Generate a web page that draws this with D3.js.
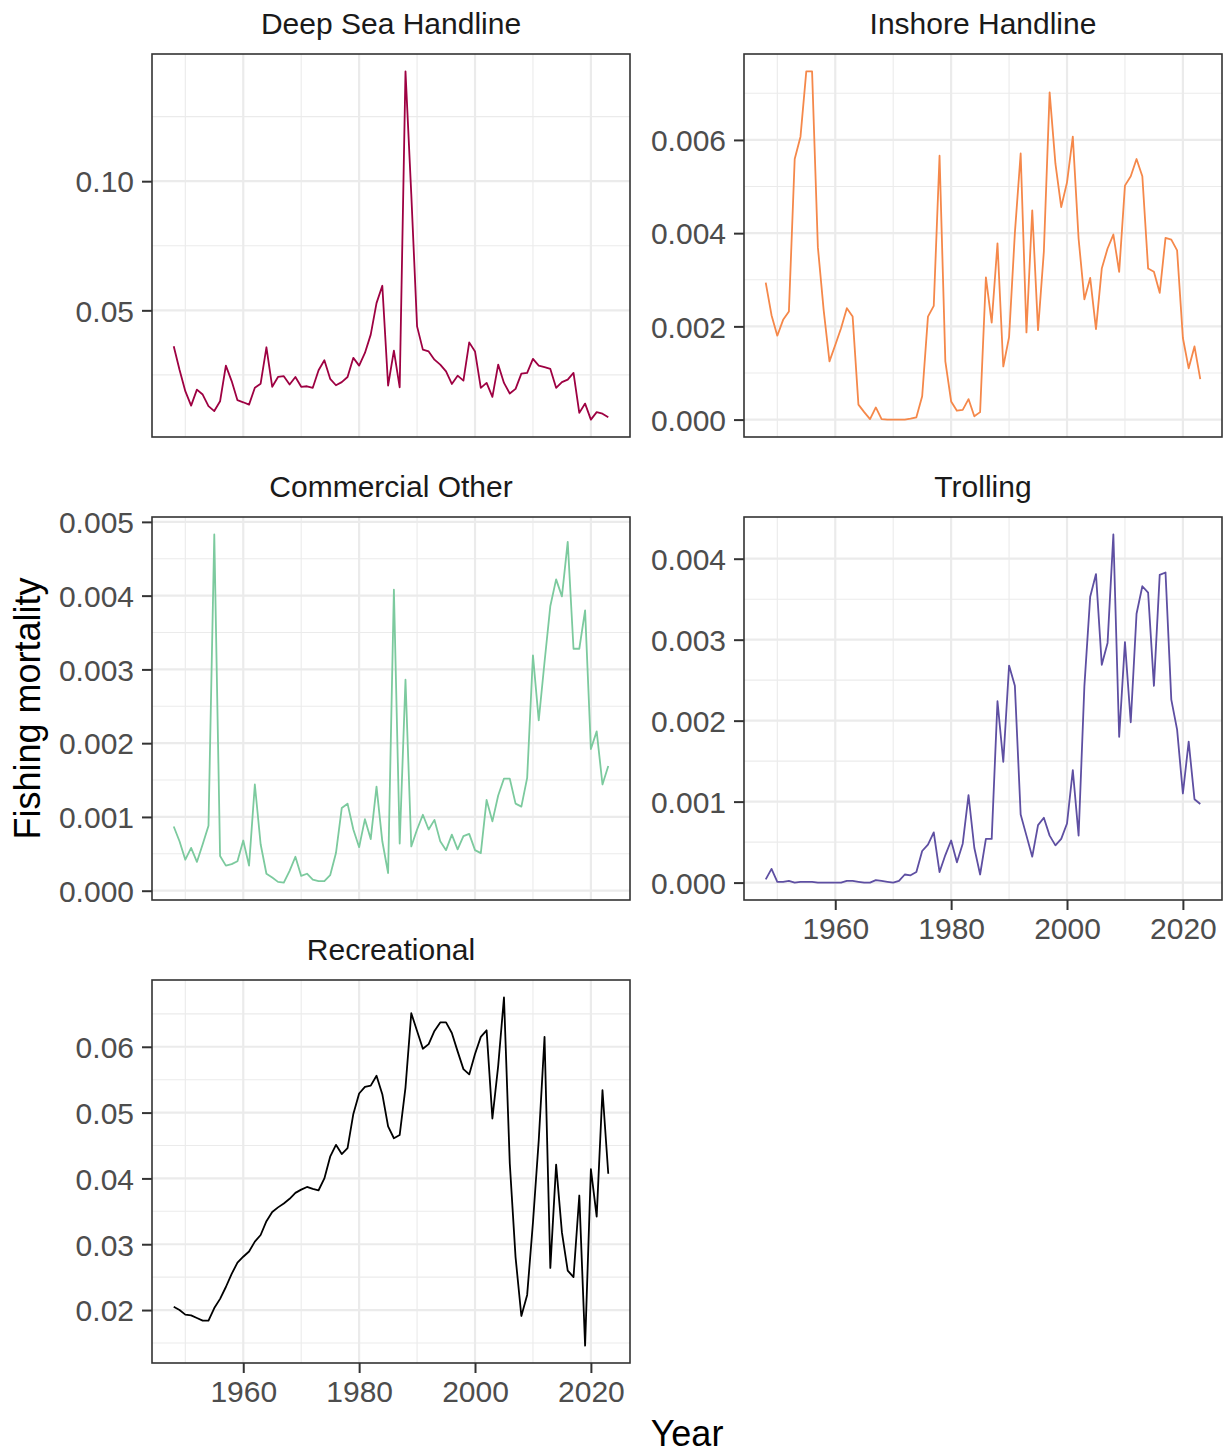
<!DOCTYPE html>
<html>
<head>
<meta charset="utf-8">
<script src="https://cdn.jsdelivr.net/npm/d3@7"></script>
<style>
  html, body { margin: 0; padding: 0; background: #ffffff; }
  svg { display: block; font-family: "Liberation Sans", Arial, Helvetica, sans-serif; }
</style>
</head>
<body>
<svg id="chart" width="1231" height="1454"></svg>
<script>
// ---------------- DATA ----------------
const years = [1948,1949,1950,1951,1952,1953,1954,1955,1956,1957,1958,1959,
  1960,1961,1962,1963,1964,1965,1966,1967,1968,1969,1970,1971,1972,1973,1974,1975,1976,1977,1978,1979,
  1980,1981,1982,1983,1984,1985,1986,1987,1988,1989,1990,1991,1992,1993,1994,1995,1996,1997,1998,1999,
  2000,2001,2002,2003,2004,2005,2006,2007,2008,2009,2010,2011,2012,2013,2014,2015,2016,2017,2018,2019,
  2020,2021,2022,2023];

const fleets = ["Deep Sea Handline", "Inshore Handline", "Commercial Other", "Trolling", "Recreational"];
const fleetColors = ["#9E0142", "#F5884A", "#7CCA9E", "#5E4FA2", "#000000"];

const deepSeaHandline = [0.0361,0.027,0.0187,0.0131,0.0193,0.0174,0.0129,0.011,0.0148,0.0286,
  0.0226,0.0152,0.0144,0.0135,0.02,0.0216,0.0357,0.0204,0.0242,0.0245,
  0.0213,0.0242,0.0204,0.0206,0.02,0.0268,0.0307,0.0235,0.021,0.0222,
  0.0242,0.0316,0.0286,0.0335,0.0406,0.0528,0.0595,0.0209,0.0344,0.0202,
  0.1425,0.095,0.0438,0.0348,0.0341,0.0309,0.029,0.0264,0.0215,0.0247,
  0.0228,0.0376,0.0341,0.02,0.0219,0.0165,0.029,0.0219,0.0178,0.0196,
  0.0255,0.0258,0.0312,0.0286,0.028,0.0273,0.02,0.0222,0.0232,0.0258,
  0.0103,0.0139,0.0077,0.0106,0.01,0.0086];

const inshoreHandline = [0.00294,0.00224,0.0018,0.00214,0.00232,0.00559,0.00607,0.00747,0.00747,0.0037,
  0.00235,0.00125,0.0016,0.00196,0.00239,0.00221,0.00032,0.00016,0.00001,0.00026,
  0.00001,0.0,0.0,0.0,0.0,0.00002,0.00005,0.0005,0.00221,0.00244,
  0.00566,0.00125,0.00039,0.00019,0.00021,0.00044,0.00007,0.00016,0.00305,0.00208,
  0.00378,0.00114,0.00177,0.0040,0.00571,0.00187,0.00449,0.00192,0.0036,0.00702,
  0.00549,0.00456,0.00509,0.00607,0.00388,0.00258,0.00304,0.00194,0.00324,0.00367,
  0.00397,0.00317,0.00502,0.00522,0.00559,0.00522,0.00324,0.00317,0.00272,0.0039,
  0.00386,0.00363,0.00175,0.0011,0.00157,0.00087];

const commercialOther = [0.00087,0.00067,0.00042,0.00058,0.00039,0.00063,0.00088,0.00483,0.00047,0.00034,
  0.00036,0.0004,0.00068,0.00034,0.00144,0.00063,0.00023,0.00018,0.00012,0.00011,
  0.00027,0.00046,0.0002,0.00023,0.00015,0.00013,0.00013,0.00021,0.00051,0.00112,
  0.00118,0.00083,0.00059,0.00097,0.0007,0.00141,0.00067,0.00024,0.00408,0.00064,
  0.00286,0.0006,0.00083,0.00103,0.00083,0.00096,0.00067,0.00055,0.00076,0.00056,
  0.00074,0.00077,0.00055,0.00051,0.00123,0.00094,0.00129,0.00152,0.00152,0.00118,
  0.00114,0.00153,0.00319,0.00231,0.0031,0.00386,0.00422,0.00399,0.00473,0.00328,
  0.00328,0.0038,0.00192,0.00216,0.00144,0.00169];

const trolling = [0.00004,0.00017,0.00001,0.00001,0.00002,0.0,0.00001,0.00001,0.00001,0.0,
  0.0,0.0,0.0,0.0,0.00002,0.00002,0.00001,0.0,0.0,0.00003,
  0.00002,0.00001,0.0,0.00002,0.0001,0.00009,0.00013,0.00039,0.00047,0.00062,
  0.00013,0.00034,0.00052,0.00025,0.00048,0.00108,0.00043,0.0001,0.00054,0.00054,
  0.00224,0.00149,0.00268,0.00243,0.00084,0.00058,0.00032,0.00071,0.0008,0.00058,
  0.00046,0.00054,0.00073,0.00139,0.00058,0.00243,0.00353,0.00381,0.00269,0.00296,
  0.0043,0.0018,0.00297,0.00198,0.00332,0.00366,0.00358,0.00243,0.0038,0.00383,
  0.00226,0.00189,0.0011,0.00174,0.00103,0.00097];

const recreational = [0.0205,0.02,0.0193,0.0192,0.0188,0.0184,0.0184,0.0203,0.0217,0.0235,
  0.0255,0.0272,0.0281,0.0289,0.0304,0.0314,0.0335,0.0349,0.0356,0.0362,
  0.0369,0.0378,0.0383,0.0387,0.0384,0.0382,0.04,0.0433,0.0451,0.0437,
  0.0446,0.0498,0.0529,0.0539,0.0541,0.0556,0.0528,0.0479,0.0461,0.0466,
  0.0538,0.0651,0.0624,0.0597,0.0604,0.0624,0.0637,0.0637,0.0621,0.0593,
  0.0566,0.0558,0.0589,0.0615,0.0625,0.0491,0.0571,0.0675,0.0423,0.028,
  0.0191,0.0223,0.0333,0.0458,0.0615,0.0264,0.0421,0.0318,0.026,0.025,
  0.0374,0.0146,0.0414,0.0342,0.0534,0.0407];

// tick values & labels
const xMajorTicks = [1960, 1980, 2000, 2020];
const xMinorTicks = [1950, 1970, 1990, 2010];
const yMajorTicks = [
  [0.05, 0.10],
  [0.000, 0.002, 0.004, 0.006],
  [0.000, 0.001, 0.002, 0.003, 0.004, 0.005],
  [0.000, 0.001, 0.002, 0.003, 0.004],
  [0.02, 0.03, 0.04, 0.05, 0.06]
];
const yMinorTicks = [
  [0.025, 0.075, 0.125],
  [0.001, 0.003, 0.005, 0.007],
  [0.0005, 0.0015, 0.0025, 0.0035, 0.0045],
  [0.0005, 0.0015, 0.0025, 0.0035],
  [0.015, 0.025, 0.035, 0.045, 0.055, 0.065]
];
const yTickDecimals = [2, 3, 3, 3, 2];
const xTitle = "Year";
const yTitle = "Fishing mortality";

// ---------------- LAYOUT ----------------
const series = [deepSeaHandline, inshoreHandline, commercialOther, trolling, recreational];
const panelLeft = [152, 744];
const panelTop = [54, 517, 980];
const panelW = 478, panelH = 383;
const showXAxis = [false, false, false, true, true];
const tickFont = 30;

const svg = d3.select("#chart");
const gridColor = "#EBEBEB";
const borderColor = "#333333";
const tickTextColor = "#4D4D4D";

const yearExt = d3.extent(years);
const xPad = (yearExt[1] - yearExt[0]) * 0.05;

fleets.forEach((name, k) => {
  const col = k % 2, row = Math.floor(k / 2);
  const x0 = panelLeft[col], y0 = panelTop[row];
  const vals = series[k];
  const ext = d3.extent(vals);
  const pad = (ext[1] - ext[0]) * 0.05;

  const x = d3.scaleLinear().domain([yearExt[0] - xPad, yearExt[1] + xPad]).range([0, panelW]);
  const y = d3.scaleLinear().domain([ext[0] - pad, ext[1] + pad]).range([panelH, 0]);

  const g = svg.append("g").attr("transform", `translate(${x0},${y0})`);

  g.append("rect").attr("width", panelW).attr("height", panelH).attr("fill", "#fff");

  // minor grid
  g.selectAll(".gxm").data(xMinorTicks).enter().append("line")
    .attr("x1", d => x(d)).attr("x2", d => x(d)).attr("y1", 0).attr("y2", panelH)
    .attr("stroke", gridColor).attr("stroke-width", 1.1);
  g.selectAll(".gym").data(yMinorTicks[k]).enter().append("line")
    .attr("y1", d => y(d)).attr("y2", d => y(d)).attr("x1", 0).attr("x2", panelW)
    .attr("stroke", gridColor).attr("stroke-width", 1.1);
  // major grid
  g.selectAll(".gxM").data(xMajorTicks).enter().append("line")
    .attr("x1", d => x(d)).attr("x2", d => x(d)).attr("y1", 0).attr("y2", panelH)
    .attr("stroke", gridColor).attr("stroke-width", 2.2);
  g.selectAll(".gyM").data(yMajorTicks[k]).enter().append("line")
    .attr("y1", d => y(d)).attr("y2", d => y(d)).attr("x1", 0).attr("x2", panelW)
    .attr("stroke", gridColor).attr("stroke-width", 2.2);

  // line
  const line = d3.line().x((d, i) => x(years[i])).y(d => y(d));
  g.append("path").datum(vals).attr("d", line)
    .attr("fill", "none").attr("stroke", fleetColors[k]).attr("stroke-width", 1.8)
    .attr("stroke-linejoin", "round");

  // border
  g.append("rect").attr("width", panelW).attr("height", panelH)
    .attr("fill", "none").attr("stroke", borderColor).attr("stroke-width", 1.6);

  // y axis
  const fmt = d3.format("." + yTickDecimals[k] + "f");
  const yAxis = d3.axisLeft(y).tickValues(yMajorTicks[k]).tickFormat(fmt).tickSize(10).tickPadding(8);
  const ya = g.append("g").call(yAxis);
  ya.select(".domain").remove();
  ya.selectAll(".tick line").attr("stroke", borderColor).attr("stroke-width", 2);
  ya.selectAll(".tick text").attr("fill", tickTextColor).attr("font-size", tickFont)
    .attr("font-family", "Liberation Sans, Arial, sans-serif").attr("dy", "0.36em");

  // x axis
  if (showXAxis[k]) {
    const xAxis = d3.axisBottom(x).tickValues(xMajorTicks).tickFormat(d3.format("d")).tickSize(10).tickPadding(8);
    const xa = g.append("g").attr("transform", `translate(0,${panelH})`).call(xAxis);
    xa.select(".domain").remove();
    xa.selectAll(".tick line").attr("stroke", borderColor).attr("stroke-width", 2);
    xa.selectAll(".tick text").attr("fill", tickTextColor).attr("font-size", tickFont)
      .attr("font-family", "Liberation Sans, Arial, sans-serif").attr("dy", "0.71em");
  }

  // strip title
  svg.append("text").attr("x", x0 + panelW / 2).attr("y", y0 - 20)
    .attr("text-anchor", "middle").attr("font-size", tickFont).attr("fill", "#1A1A1A")
    .text(name);
});

// axis titles
svg.append("text").attr("x", (panelLeft[0] + panelLeft[1] + panelW) / 2).attr("y", 1446)
  .attr("text-anchor", "middle").attr("font-size", 36).attr("fill", "#000").text(xTitle);
svg.append("text").attr("transform", `translate(40,${(panelTop[0] + panelTop[2] + panelH) / 2}) rotate(-90)`)
  .attr("text-anchor", "middle").attr("font-size", 36).attr("fill", "#000").text(yTitle);
</script>
</body>
</html>
